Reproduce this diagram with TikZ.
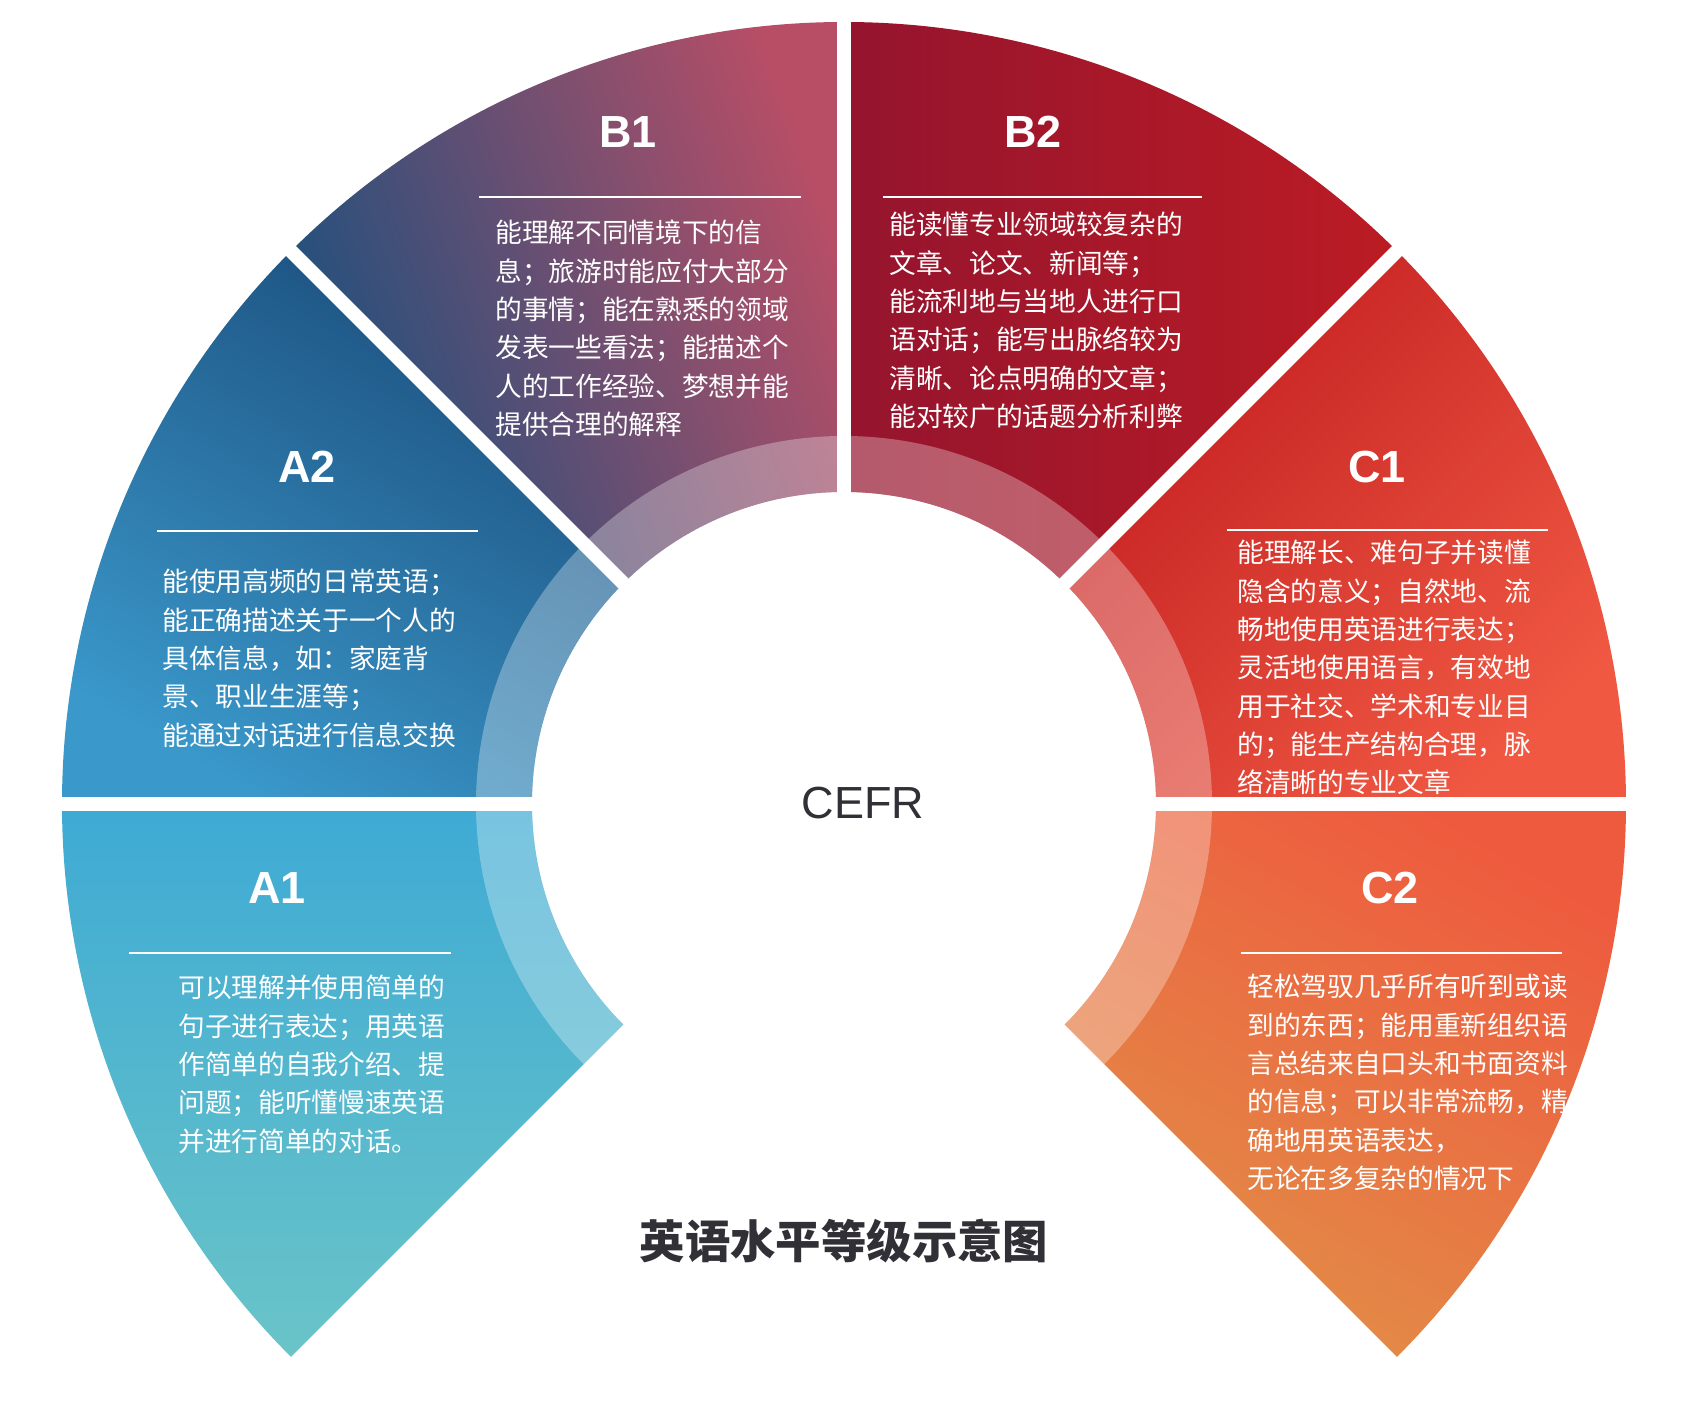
\documentclass[tikz,border=0pt]{standalone}
\usepackage{fontspec}
\setmainfont{Liberation Sans}
\newfontfamily\cjk{Noto Sans CJK SC}

\definecolor{aonetop}{RGB}{62,170,212}
\definecolor{aonebot}{RGB}{106,196,200}
\definecolor{atwodark}{RGB}{27,78,125}
\definecolor{atwolight}{RGB}{58,152,202}
\definecolor{bonepink}{RGB}{184,78,102}
\definecolor{boneblue}{RGB}{28,80,126}
\definecolor{btwodark}{RGB}{148,20,46}
\definecolor{btwored}{RGB}{188,28,36}
\definecolor{conedark}{RGB}{194,30,32}
\definecolor{conelight}{RGB}{240,88,66}
\definecolor{ctwotop}{RGB}{238,90,62}
\definecolor{ctwobot}{RGB}{226,142,72}
\definecolor{inkgray}{RGB}{48,48,54}

% hình quạt giữa hai góc
\newcommand{\quat}[2]{(#1:312) -- (#1:782) arc[start angle=#1, end angle=#2, radius=782]
  -- (#2:312) arc[start angle=#2, end angle=#1, radius=312] -- cycle}

\begin{document}
\begin{tikzpicture}[x=0.5pt, y=0.5pt,
    sepline/.style={white, line width=7pt},
    rule/.style={white, line width=1pt},
    lvl/.style={text=white, inner sep=0, font=\bfseries\fontsize{22.5pt}{27pt}\selectfont},
    desc/.style={text=white, inner sep=0, anchor=north west, align=left,
                 font=\cjk\fontsize{13.35pt}{19.15pt}\selectfont}]
    \useasboundingbox (-844,-602) rectangle (844,804);

    % 1. Các hình quạt
    \shade[top color=aonetop, bottom color=aonebot] \quat{180}{225};
    \shade[top color=atwodark, bottom color=atwolight, shading angle=-30] \quat{135}{180};
    \shade[top color=bonepink, bottom color=boneblue, shading angle=-70] \quat{90}{135};
    \shade[top color=btwored, bottom color=btwodark, shading angle=-90] \quat{45}{90};
    \shade[top color=conedark, bottom color=conelight, shading angle=45] \quat{0}{45};
    \shade[top color=ctwotop, bottom color=ctwobot, shading angle=-30] \quat{-45}{0};

    % 2. Vành sáng bên trong
    \fill[white, fill opacity=0.3] (-45:368) arc[start angle=-45, end angle=225, radius=368]
        -- (225:312) arc[start angle=225, end angle=-45, radius=312] -- cycle;

    % 3. Khe trắng
    \foreach \g in {0,45,90,135,180}
        \draw[sepline] (0,0) -- (\g:800);

    % 4. Tên các bậc
    \node[lvl] (tA1) at (-567,-84) {A1};
    \node[lvl] (tA2) at (-537,337) {A2};
    \node[lvl] (tB1) at (-216,672) {B1};
    \node[lvl] (tB2) at (189,672) {B2};
    \node[lvl] (tC1) at (533,337) {C1};
    \node[lvl] (tC2) at (546,-84) {C2};

    \draw[rule] (-715,-149) -- (-393,-149);
    \draw[rule] (-687,273) -- (-366,273);
    \draw[rule] (-365,607) -- (-43,607);
    \draw[rule] (39,607) -- (358,607);
    \draw[rule] (383,274) -- (704,274);
    \draw[rule] (397,-149) -- (718,-149);

    % 5. Nội dung
    \node[desc] (dA1) at (-666,-171) {可以理解并使用简单的\\句子进行表达；用英语\\作简单的自我介绍、提\\问题；能听懂慢速英语\\并进行简单的对话。};
    \node[desc] (dA2) at (-682,235) {能使用高频的日常英语；\\能正确描述关于一个人的\\具体信息，如：家庭背\\景、职业生涯等；\\能通过对话进行信息交换};
    \node[desc] (dB1) at (-349,584) {能理解不同情境下的信\\息；旅游时能应付大部分\\的事情；能在熟悉的领域\\发表一些看法；能描述个\\人的工作经验、梦想并能\\提供合理的解释};
    \node[desc] (dB2) at (45,592) {能读懂专业领域较复杂的\\文章、论文、新闻等；\\能流利地与当地人进行口\\语对话；能写出脉络较为\\清晰、论点明确的文章；\\能对较广的话题分析利弊};
    \node[desc] (dC1) at (393,264) {能理解长、难句子并读懂\\隐含的意义；自然地、流\\畅地使用英语进行表达；\\灵活地使用语言，有效地\\用于社交、学术和专业目\\的；能生产结构合理，脉\\络清晰的专业文章};
    \node[desc] (dC2) at (403,-170) {轻松驾驭几乎所有听到或读\\到的东西；能用重新组织语\\言总结来自口头和书面资料\\的信息；可以非常流畅，精\\确地用英语表达，\\无论在多复杂的情况下};

    % 6. Tâm và tiêu đề
    \node[text=inkgray, font=\fontsize{22.5pt}{27pt}\selectfont] (cefr) at (19,1) {CEFR};
    \node[text=inkgray, font=\cjk\bfseries\fontsize{22.7pt}{27pt}\selectfont] (title) at (0,-437) {英语水平等级示意图};
\end{tikzpicture}
\end{document}
